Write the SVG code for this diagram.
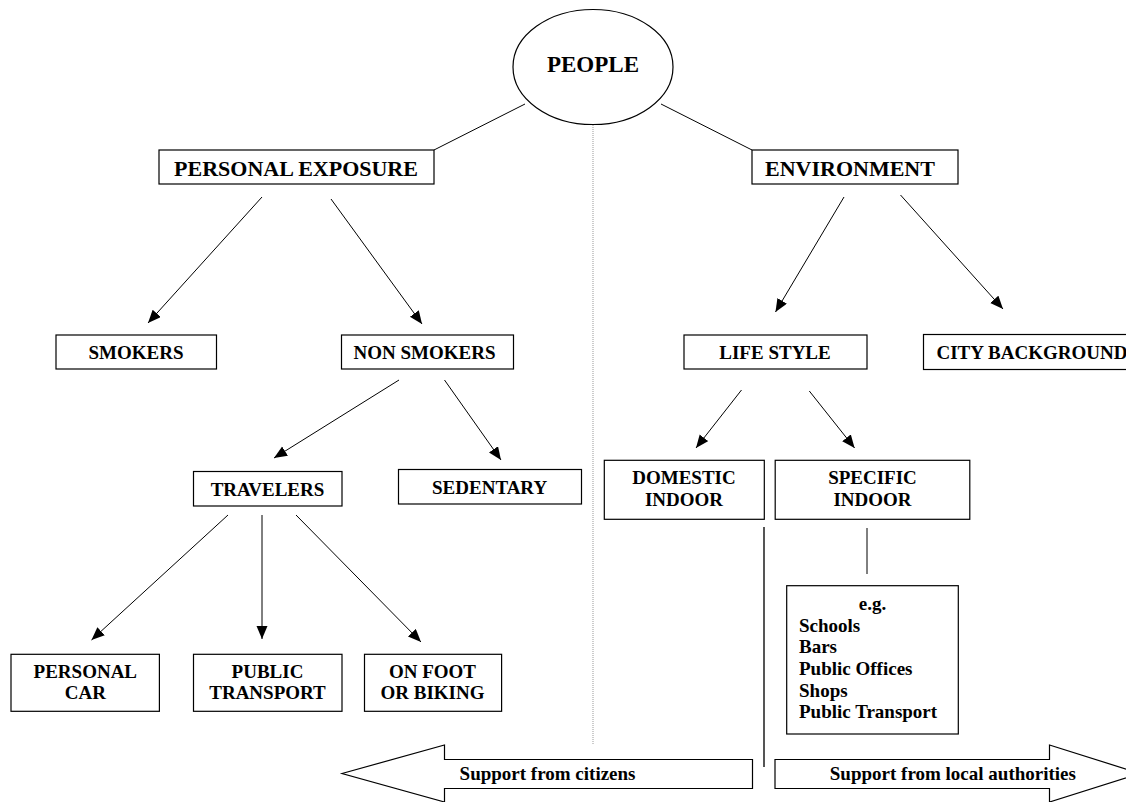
<svg xmlns="http://www.w3.org/2000/svg" width="1126" height="802" viewBox="0 0 1126 802">
<style>
  .box { fill: #fff; stroke: #000; stroke-width: 1.2; }
  .t { font-family: "Liberation Serif", "Times New Roman", serif; font-weight: bold; fill: #000; }
  .c { text-anchor: middle; }
  .f22 { font-size: 22px; }
  .f19 { font-size: 19px; }
  .con { stroke: #000; stroke-width: 1; fill: none; }
  .arr { marker-end: url(#ah); }
</style>
<defs>
  <marker id="ah" markerUnits="userSpaceOnUse" markerWidth="14" markerHeight="12" refX="13" refY="5.5" orient="auto">
    <path d="M0,0 L13,5.5 L0,11 z" fill="#000"/>
  </marker>
</defs>
<rect width="1126" height="802" fill="#fff"/>

<g id="connectors">
  <line class="con" x1="525" y1="104" x2="434" y2="150"/>
  <line class="con" x1="661" y1="104" x2="752" y2="150"/>
  <line class="con arr" x1="262" y1="197" x2="148" y2="323"/>
  <line class="con arr" x1="331" y1="199" x2="422" y2="324"/>
  <line class="con arr" x1="844" y1="197" x2="775.5" y2="312"/>
  <line class="con arr" x1="900.5" y1="195" x2="1003" y2="309"/>
  <line class="con arr" x1="399" y1="380" x2="274" y2="458"/>
  <line class="con arr" x1="444.5" y1="380" x2="501" y2="460"/>
  <line class="con arr" x1="228" y1="515" x2="91.5" y2="640"/>
  <line class="con arr" x1="262" y1="515" x2="262" y2="639"/>
  <line class="con arr" x1="296" y1="515" x2="421" y2="642"/>
  <line class="con arr" x1="741.5" y1="390" x2="696" y2="448"/>
  <line class="con arr" x1="809.3" y1="391" x2="854.6" y2="448"/>
  <line class="con" x1="867" y1="528" x2="867" y2="574"/>
  <line x1="764" y1="527" x2="764" y2="767" stroke="#555" stroke-width="2"/>
  <line x1="593" y1="125" x2="593" y2="745" stroke="#999" stroke-width="1" stroke-dasharray="1,1"/>
</g>

<g id="people">
  <ellipse class="box" cx="593" cy="67" rx="80" ry="57.5"/>
  <text class="t c" x="593" y="72" font-size="23">PEOPLE</text>
</g>

<g id="personal-exposure">
  <rect class="box" x="159" y="150" width="275" height="34"/>
  <text class="t c f22" x="296" y="176">PERSONAL EXPOSURE</text>
</g>

<g id="environment">
  <rect class="box" x="752" y="150" width="206" height="34"/>
  <text class="t f22" x="765" y="176">ENVIRONMENT</text>
</g>

<g id="smokers">
  <rect class="box" x="56" y="335" width="160.5" height="34"/>
  <text class="t c f19" x="136" y="359">SMOKERS</text>
</g>

<g id="non-smokers">
  <rect class="box" x="341.5" y="335" width="172" height="34"/>
  <text class="t c f19" x="424.5" y="359">NON SMOKERS</text>
</g>

<g id="life-style">
  <rect class="box" x="684" y="335" width="183" height="34"/>
  <text class="t c f19" x="775" y="359">LIFE STYLE</text>
</g>

<g id="city-background">
  <rect class="box" x="923.5" y="334.5" width="220" height="35"/>
  <text class="t f19" x="936.5" y="359">CITY BACKGROUND</text>
</g>

<g id="travelers">
  <rect class="box" x="193.5" y="471.5" width="148.5" height="34.5"/>
  <text class="t c f19" x="267.5" y="496">TRAVELERS</text>
</g>

<g id="sedentary">
  <rect class="box" x="398.5" y="469.5" width="183" height="34.5"/>
  <text class="t c f19" x="489.6" y="493.5">SEDENTARY</text>
</g>

<g id="domestic-indoor">
  <rect class="box" x="604.3" y="460.3" width="160" height="59"/>
  <text class="t c f19" x="684" y="484.3">DOMESTIC</text>
  <text class="t c f19" x="684" y="506">INDOOR</text>
</g>

<g id="specific-indoor">
  <rect class="box" x="775.2" y="460.3" width="194.6" height="59"/>
  <text class="t c f19" x="872.5" y="484.3">SPECIFIC</text>
  <text class="t c f19" x="872.5" y="506">INDOOR</text>
</g>

<g id="examples">
  <rect class="box" x="786.7" y="585.7" width="171.6" height="148.3"/>
  <text class="t c f19" x="872.5" y="610">e.g.</text>
  <text class="t f19" x="799" y="631.7">Schools</text>
  <text class="t f19" x="799" y="653.3">Bars</text>
  <text class="t f19" x="799" y="675">Public Offices</text>
  <text class="t f19" x="799" y="696.7">Shops</text>
  <text class="t f19" x="799" y="718.3">Public Transport</text>
</g>

<g id="personal-car">
  <rect class="box" x="11" y="654.3" width="148.4" height="57"/>
  <text class="t c f19" x="85.3" y="677.7">PERSONAL</text>
  <text class="t c f19" x="85.3" y="699.3">CAR</text>
</g>

<g id="public-transport">
  <rect class="box" x="193.5" y="654.3" width="148.5" height="57"/>
  <text class="t c f19" x="267.5" y="677.7">PUBLIC</text>
  <text class="t c f19" x="267.5" y="699.3">TRANSPORT</text>
</g>

<g id="on-foot">
  <rect class="box" x="364.5" y="654.3" width="137.1" height="57"/>
  <text class="t c f19" x="432.5" y="677.7">ON FOOT</text>
  <text class="t c f19" x="432.5" y="699.3">OR BIKING</text>
</g>

<g id="support-citizens">
  <polygon class="box" points="342,773.5 444.5,745 444.5,759.5 752.5,759.5 752.5,788.5 444.5,788.5 444.5,802"/>
  <text class="t f19" x="459.6" y="780">Support from citizens</text>
</g>

<g id="support-authorities">
  <polygon class="box" points="775,759.5 1049.5,759.5 1049.5,745 1140,773.5 1049.5,802 1049.5,788.5 775,788.5"/>
  <text class="t f19" x="829.8" y="780">Support from local authorities</text>
</g>
</svg>
